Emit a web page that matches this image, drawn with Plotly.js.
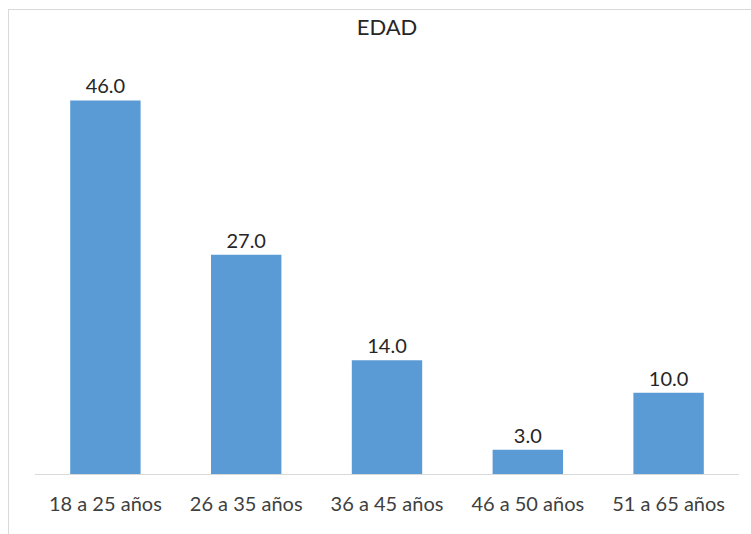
<!DOCTYPE html>
<html>
<head>
<meta charset="utf-8">
<script src="https://cdn.plot.ly/plotly-3.0.1.min.js"></script>
<style>
  html, body { margin: 0; padding: 0; background: #fff; }
  #wrap { position: relative; width: 751px; height: 534px; }
  #chart { width: 751px; height: 534px; }
  #frame { position: absolute; left: 8px; top: 9px; width: 760px; height: 540px;
           border-top: 1px solid #d9d9d9; border-left: 1px solid #d9d9d9; pointer-events: none; }
</style>
</head>
<body>
<div id="wrap">
  <div id="chart"></div>
  <div id="frame"></div>
</div>
<script>
const categories = ["18 a 25 años", "26 a 35 años", "36 a 45 años", "46 a 50 años", "51 a 65 años"];
const values = [46.0, 27.0, 14.0, 3.0, 10.0];
const chartTitle = "EDAD";

const font = "Lato, 'Open Sans', 'Liberation Sans', sans-serif";

const trace = {
  type: "bar",
  x: categories,
  y: values,
  marker: { color: "#5B9BD5" },
  texttemplate: "%{y:.1f}",
  textposition: "outside",
  cliponaxis: false,
  textfont: { family: font, size: 20, color: "#262626" },
  hoverinfo: "skip"
};

const layout = {
  width: 751,
  height: 534,
  margin: { l: 34.5, r: 12, t: 67.5, b: 59.5 },
  paper_bgcolor: "#ffffff",
  plot_bgcolor: "#ffffff",
  bargap: 0.5,
  showlegend: false,
  title: {
    text: chartTitle,
    font: { family: font, size: 22, color: "#262626" },
    x: 0.5, xref: "paper", xanchor: "center",
    y: 0.948, yref: "container", yanchor: "middle"
  },
  xaxis: {
    type: "category",
    showline: true,
    linecolor: "#d9d9d9",
    linewidth: 1,
    ticks: "",
    showgrid: false,
    tickfont: { family: font, size: 20, color: "#404040" },
    ticklabelstandoff: 12
  },
  yaxis: {
    range: [0, 50],
    visible: false,
    showgrid: false,
    zeroline: false
  }
};

Plotly.newPlot("chart", [trace], layout, { displayModeBar: false, staticPlot: true });
</script>
</body>
</html>
